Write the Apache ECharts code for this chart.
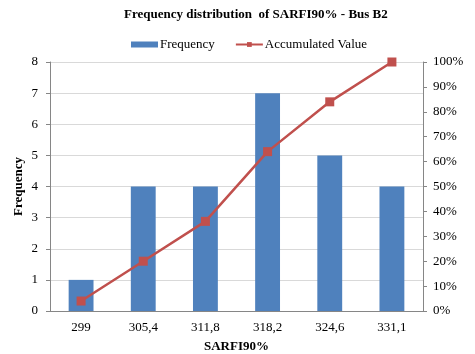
<!DOCTYPE html>
<html>
<head>
<meta charset="utf-8">
<script src="https://cdn.jsdelivr.net/npm/echarts@6/dist/echarts.min.js"></script>
<style>
  html, body { margin: 0; padding: 0; background: #fff; }
  #chart { width: 475px; height: 354px; }
</style>
</head>
<body>
<div id="chart"></div>
<script>
// classes on the x axis
const categories = ['299', '305,4', '311,8', '318,2', '324,6', '331,1']
// bar heights
const frequency = [1, 4, 4, 7, 5, 4]
// accumulated percentage (line, right axis)
const accumulated = [4, 20, 36, 64, 84, 100]

const serif = '"Liberation Serif", "Times New Roman", serif'

let myChart = echarts.init(document.getElementById('chart'))
let option = {
  animation: false,
  title: {
    text: 'Frequency distribution  of SARFI90% - Bus B2',
    left: 119,
    top: 3,
    textStyle: { fontFamily: serif, fontSize: 13, fontWeight: 'bold', color: '#000' }
  },
  legend: {
    top: 33,
    left: 126,
    itemGap: 20,
    itemWidth: 27,
    itemHeight: 6,
    textStyle: { fontFamily: serif, fontSize: 13, color: '#000', padding: [0, 0, 0, -3] },
    data: [
      { name: 'Frequency', icon: 'rect' },
      { name: 'Accumulated Value' }
    ]
  },
  grid: {
    left: 50,
    right: 52,
    top: 62,
    bottom: 43,
    outerBoundsMode: 'none'
  },
  xAxis: {
    type: 'category',
    data: categories,
    name: 'SARFI90%',
    nameLocation: 'middle',
    nameGap: 29,
    nameMoveOverlap: false,
    nameTextStyle: { fontFamily: serif, fontSize: 13, fontWeight: 'bold', color: '#000' },
    axisLine: { lineStyle: { color: '#868686' } },
    axisTick: { show: false },
    axisLabel: { fontFamily: serif, fontSize: 13, color: '#000', margin: 10 }
  },
  yAxis: [
    {
      type: 'value',
      min: 0,
      max: 8,
      interval: 1,
      name: 'Frequency',
      nameLocation: 'middle',
      nameGap: 25,
      nameMoveOverlap: false,
      nameTextStyle: { fontFamily: serif, fontSize: 13, fontWeight: 'bold', color: '#000' },
      axisLine: { show: true, lineStyle: { color: '#868686' } },
      axisTick: { show: true, length: 4, lineStyle: { color: '#868686' } },
      axisLabel: { fontFamily: serif, fontSize: 13, color: '#000', margin: 12 },
      splitLine: { lineStyle: { color: '#d9d9d9' } }
    },
    {
      type: 'value',
      min: 0,
      max: 100,
      interval: 10,
      axisLine: { show: true, lineStyle: { color: '#868686' } },
      axisTick: { show: true, length: 4, lineStyle: { color: '#868686' } },
      axisLabel: { fontFamily: serif, fontSize: 13, color: '#000', margin: 10, formatter: '{value}%' },
      splitLine: { show: false }
    }
  ],
  series: [
    {
      name: 'Frequency',
      type: 'bar',
      barWidth: '40%',
      data: frequency,
      itemStyle: { color: '#4F81BD' }
    },
    {
      name: 'Accumulated Value',
      type: 'line',
      yAxisIndex: 1,
      data: accumulated,
      symbol: 'rect',
      symbolSize: 9,
      lineStyle: { color: '#C0504D', width: 2.5 },
      itemStyle: { color: '#C0504D' }
    }
  ]
}
myChart.setOption(option)
</script>
</body>
</html>
